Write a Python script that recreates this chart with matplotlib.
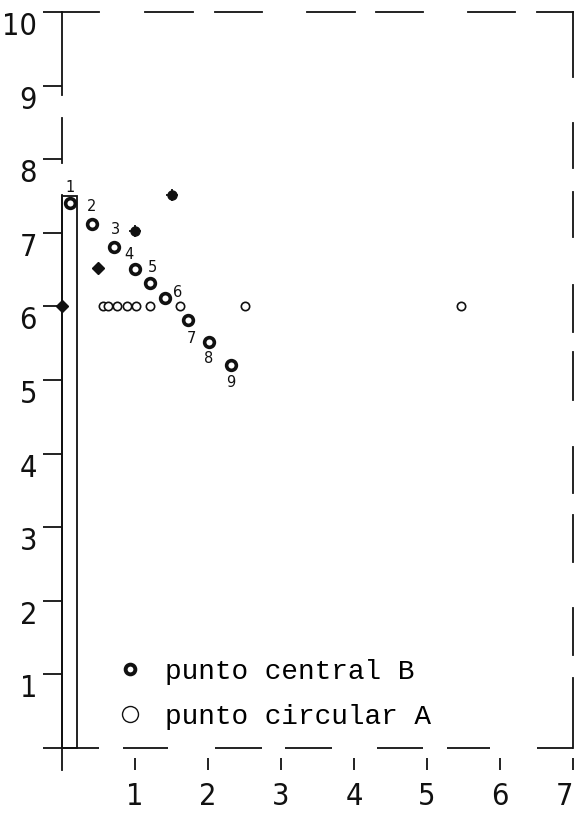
import matplotlib
matplotlib.use("Agg")
import matplotlib.pyplot as plt
from matplotlib.lines import Line2D
from matplotlib import font_manager
from matplotlib.font_manager import FontProperties

# ---------------- data ----------------
central_x = [0.11, 0.41, 0.71, 1.00, 1.21, 1.41, 1.72, 2.01, 2.31]
central_y = [7.40, 7.12, 6.81, 6.51, 6.32, 6.11, 5.82, 5.52, 5.21]
central_labels = ["1", "2", "3", "4", "5", "6", "7", "8", "9"]

circular_x = [0.56, 0.63, 0.75, 0.89, 1.02, 1.20, 1.62, 2.50, 5.47]
circular_y = [6.0, 6.0, 6.0, 6.0, 6.0, 6.0, 6.0, 6.0, 6.0]

diamond_x = [0.0, 0.49]
diamond_y = [6.0, 6.52]

crossed_x = [1.0, 1.5]
crossed_y = [7.02, 7.51]

bar_x = [0.0]
bar_h = [7.5]
bar_w = 0.21

xticks = [1, 2, 3, 4, 5, 6, 7]
xticklabels = ["1", "2", "3", "4", "5", "6", "7"]
yticks = [0, 1, 2, 3, 4, 5, 6, 7, 8, 9, 10]
yticklabels = ["", "1", "2", "3", "4", "5", "6", "7", "8", "9", "10"]

legend_labels = ["punto central B", "punto circular A"]

# label offsets (pixels, x right, y down)
label_off_px = [(0, -16), (0, -17), (2, -17), (-6, -14), (2, -15),
                (13, -6), (4, 19), (0, 17), (0, 18)]

# ---------------- style ----------------
plt.rcParams['lines.scale_dashes'] = False
names = {f.name for f in font_manager.fontManager.ttflist}
leg_font = 'Liberation Mono' if 'Liberation Mono' in names else 'DejaVu Sans Mono'

# look for a condensed sans face for the tall, narrow digits
cond = None
for f in font_manager.fontManager.ttflist:
    st = str(f.stretch).lower()
    if ('condensed' in st or 'narrow' in f.name.lower() or 'condensed' in f.name.lower()) \
            and f.style == 'normal' and f.weight in (400, 'normal', 'regular') \
            and 'mono' not in f.name.lower() and 'serif' not in f.name.lower():
        cond = f
        break
if cond is not None:
    tick_fp = FontProperties(fname=cond.fname, size=22)
else:
    tick_fp = FontProperties(family='DejaVu Sans', size=18)

K = '#111111'
PX = 0.72  # points per pixel at dpi 100

W, H = 577, 815
fig = plt.figure(figsize=(W / 100, H / 100), dpi=100)
L, R, T, B = 62, 573, 12, 748
ax = fig.add_axes([L / W, 1 - B / H, (R - L) / W, (B - T) / H])
ax.set_xlim(0, 7)
ax.set_ylim(0, 10)

def dash(seq):
    return (0, tuple(v * PX for v in seq))

lw = 1.3
ax.spines['top'].set_linestyle(dash((37, 46, 48, 22, 47, 45, 48, 21, 47, 45, 47, 22, 36, 10)))
ax.spines['right'].set_linestyle(dash((70, 23, 47, 46, 47, 22, 46, 47, 48, 20, 47, 48,
                                       45, 24, 45, 46, 65, 10)))
ax.spines['left'].set_bounds(-0.3, 10)
ax.spines['left'].set_linestyle(dash((575, 32, 45, 23, 83, 10)))
for s in ['top', 'right', 'left']:
    ax.spines[s].set_linewidth(lw)
    ax.spines[s].set_color(K)
ax.spines['bottom'].set_position(('outward', 10 * PX))
ax.spines['bottom'].set_visible(False)
ax.axhline(0, color=K, lw=lw, clip_on=False,
           linestyle=dash((37, 24, 45, 47, 47, 23, 47, 45, 46, 24, 43, 47, 36, 10)))

ax.set_xticks(xticks)
ax.set_xticklabels(xticklabels, fontproperties=tick_fp)
ax.set_yticks(yticks)
ax.set_yticklabels(yticklabels, fontproperties=tick_fp)
ax.tick_params(axis='x', direction='out', length=12 * PX, width=lw, pad=12 * PX, colors=K)
ax.tick_params(axis='y', direction='out', length=19 * PX, width=lw, pad=6 * PX, colors=K)
for lab in ax.get_yticklabels():
    lab.set_verticalalignment('top')
ax.get_xticklabels()[-1].set_horizontalalignment('right')
ax.get_xticklabels()[-1].set_x(7)

# bar
ax.bar(bar_x, bar_h, width=bar_w, align='edge', fill=False, edgecolor=K, linewidth=lw,
       clip_on=False)

# small circles
ax.plot(circular_x, circular_y, 'o', ls='none', ms=6, mfc='white', mec=K, mew=1.2,
        clip_on=False, zorder=3)
# diamonds
ax.plot(diamond_x, diamond_y, 'D', ls='none', ms=6, mfc=K, mec=K, clip_on=False, zorder=4)
# crossed filled circles
ax.plot(crossed_x, crossed_y, 'o', ls='none', ms=6.5, mfc=K, mec=K, clip_on=False, zorder=4)
ax.plot(crossed_x, crossed_y, '+', ls='none', ms=9, mec=K, mew=1.3, clip_on=False, zorder=4)
# thick circles
ax.plot(central_x, central_y, 'o', ls='none', ms=7, mfc='white', mec=K, mew=2.6,
        clip_on=False, zorder=5)
for x, y, t, (dx, dy) in zip(central_x, central_y, central_labels, label_off_px):
    ax.annotate(t, (x, y), xytext=(dx * PX, -dy * PX), textcoords='offset points',
                ha='center', va='center', fontsize=10.5, color=K)

# legend
h1 = Line2D([], [], marker='o', ls='none', ms=7, mfc='white', mec=K, mew=2.8)
h2 = Line2D([], [], marker='o', ls='none', ms=11.5, mfc='white', mec=K, mew=1.0)
ax.legend([h1, h2], legend_labels, loc='upper left',
          bbox_to_anchor=((116 - L) / (R - L), (B - 659) / (B - T)),
          frameon=False, borderpad=0, borderaxespad=0, handlelength=1.0,
          handletextpad=0.76, labelspacing=0.67,
          prop={'family': leg_font, 'size': 20})

fig.savefig('out.png', dpi=100)
